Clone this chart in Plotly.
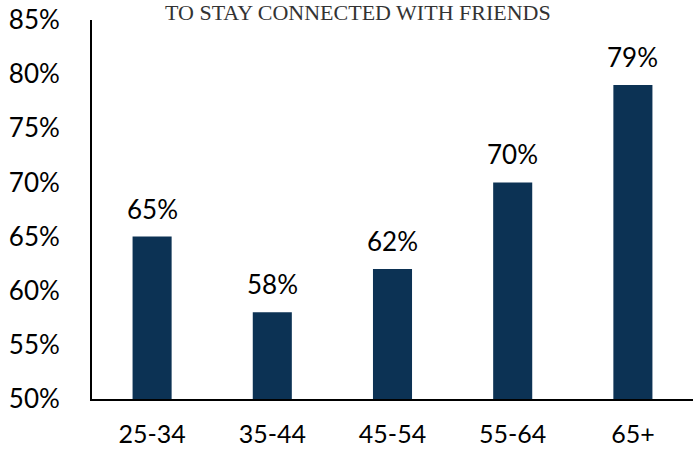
import plotly.graph_objects as go

# Share of each age group using the platform to stay connected with friends
age_groups = ["25-34", "35-44", "45-54", "55-64", "65+"]
share_pct = [65, 58, 62, 70, 79]
y_ticks = [50, 55, 60, 65, 70, 75, 80, 85]
y_tick_labels = [f"{v}%" for v in y_ticks]

BAR_COLOR = "#0c3254"
SANS = "Lato, 'Open Sans', sans-serif"
SERIF = "'Liberation Serif', 'DejaVu Serif', serif"

fig = go.Figure()
fig.add_trace(go.Bar(
    x=age_groups,
    y=share_pct,
    width=0.325,
    marker=dict(color=BAR_COLOR, line=dict(width=0)),
    hoverinfo="skip",
))

# Value labels above each bar
for cat, val in zip(age_groups, share_pct):
    fig.add_annotation(
        x=cat, y=val, text=f"{val}%", showarrow=False,
        yanchor="bottom", yshift=10,
        font=dict(family=SANS, size=26, color="#000000"),
    )

fig.add_annotation(
    x=0.443, y=1.0, xref="paper", yref="paper", yshift=21,
    text="TO STAY CONNECTED WITH FRIENDS", showarrow=False,
    xanchor="center", yanchor="top", borderpad=0,
    font=dict(family=SERIF, size=22, color="#333333"),
)

fig.update_layout(
    width=697, height=449,
    margin=dict(l=91.5, r=4, t=20, b=50, autoexpand=False),
    paper_bgcolor="white", plot_bgcolor="white",
    showlegend=False,
    xaxis=dict(
        automargin=False,
        showline=True, linecolor="#000000", linewidth=2,
        showgrid=False, ticks="", ticklabelstandoff=12,
        tickfont=dict(family=SANS, size=25, color="#000000"),
    ),
    yaxis=dict(
        automargin=False,
        range=[50, 85], tickvals=y_ticks, ticktext=y_tick_labels,
        showline=True, linecolor="#000000", linewidth=2,
        showgrid=False, zeroline=False, ticks="", ticklabelstandoff=25,
        tickfont=dict(family=SANS, size=26, color="#000000"),
    ),
)

fig.write_html("out.html")
